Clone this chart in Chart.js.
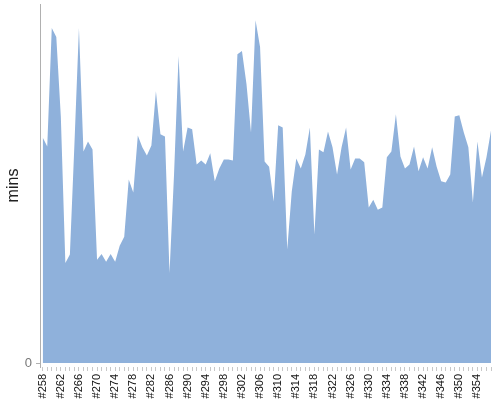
<!DOCTYPE html>
<html>
<head>
<meta charset="utf-8">
<script src="https://cdn.jsdelivr.net/npm/chart.js@4"></script>
<style>
  html, body { margin: 0; padding: 0; background: #fff; }
  #wrap { width: 500px; height: 400px; }
</style>
</head>
<body>
<div id="wrap"><canvas id="chart" width="500" height="400"></canvas></div>
<script>
// build numbers #258 .. #357
const builds = [258, 259, 260, 261, 262, 263, 264, 265, 266, 267, 268, 269, 270, 271, 272, 273, 274, 275, 276, 277,
  278, 279, 280, 281, 282, 283, 284, 285, 286, 287, 288, 289, 290, 291, 292, 293, 294, 295, 296, 297,
  298, 299, 300, 301, 302, 303, 304, 305, 306, 307, 308, 309, 310, 311, 312, 313, 314, 315, 316, 317,
  318, 319, 320, 321, 322, 323, 324, 325, 326, 327, 328, 329, 330, 331, 332, 333, 334, 335, 336, 337,
  338, 339, 340, 341, 342, 343, 344, 345, 346, 347, 348, 349, 350, 351, 352, 353, 354, 355, 356, 357];

// build duration (mins)
const mins = [62.8, 60.3, 93.3, 90.8, 68.7, 27.9, 30.2, 60.9, 93.3, 58.9, 61.7, 59.5, 28.8, 30.4, 28.2, 30.4, 28.2, 32.7, 35.2, 51.1,
  47.5, 63.4, 60.1, 57.8, 60.6, 75.7, 63.7, 63.1, 25.1, 52.5, 85.5, 58.9, 65.6, 65.1, 55.3, 56.4, 55.3, 58.4, 50.6, 54.2,
  56.7, 56.7, 56.4, 86.0, 86.9, 77.7, 64.2, 95.5, 88.0, 56.1, 54.7, 45.0, 66.2, 65.6, 31.6, 47.8, 57.0, 54.2, 58.1, 65.6,
  35.8, 59.5, 58.7, 64.5, 60.1, 52.5, 60.1, 65.6, 53.9, 57.0, 57.0, 55.9, 43.3, 45.5, 42.7, 43.3, 57.3, 58.9, 69.3, 57.5,
  54.2, 55.3, 60.3, 53.4, 57.3, 54.2, 60.1, 54.7, 50.6, 50.3, 52.5, 68.7, 69.0, 64.2, 60.1, 44.7, 61.7, 51.7, 57.3, 64.8];

const labelStep = 4;

const punti = builds.map((b, i) => ({ x: b, y: mins[i] }));

const ctx = document.getElementById("chart").getContext("2d");
const chart = new Chart(ctx, {
  type: "line",
  data: {
    datasets: [{
      label: "mins",
      data: punti,
      fill: "origin",
      backgroundColor: "rgb(143, 177, 219)",
      borderWidth: 0,
      pointRadius: 0,
      tension: 0
    }]
  },
  options: {
    responsive: false,
    animation: false,
    layout: { padding: { top: 4, right: 9, left: 0, bottom: 0 } },
    plugins: { legend: { display: false }, tooltip: { enabled: false } },
    scales: {
      x: {
        type: "linear",
        min: builds[0] - 0.6,
        max: builds[builds.length - 1],
        afterBuildTicks: s => { s.ticks = builds.map(b => ({ value: b })); },
        afterFit: s => { s.height = 33; s.paddingLeft = 0; s.paddingRight = 0; },
        border: { display: false },
        grid: { drawOnChartArea: false, tickLength: 4, color: "#c8c8c8" },
        ticks: {
          autoSkip: false,
          minRotation: 90,
          maxRotation: 90,
          padding: 3,
          color: "#111",
          font: { family: "'Liberation Sans', Arial, sans-serif", size: 11 },
          callback: v => ((v - builds[0]) % labelStep === 0 ? "#" + v : "")
        }
      },
      y: {
        min: -1.1,
        max: 100,
        afterBuildTicks: s => { s.ticks = [{ value: 0 }]; },
        afterFit: s => { s.width = 40; s.paddingTop = 0; s.paddingBottom = 0; },
        border: { display: true, color: "#b0b0b0" },
        grid: { drawOnChartArea: false, tickLength: 4, color: "#b0b0b0" },
        ticks: {
          padding: 4,
          color: "#777",
          font: { family: "'Liberation Sans', Arial, sans-serif", size: 13 },
          callback: v => (v === 0 ? "0" : "")
        },
        title: {
          display: true,
          text: "mins",
          color: "#222",
          padding: { top: 4, bottom: 0 },
          font: { family: "'Liberation Sans', Arial, sans-serif", size: 16 }
        }
      }
    }
  }
});
</script>
</body>
</html>
